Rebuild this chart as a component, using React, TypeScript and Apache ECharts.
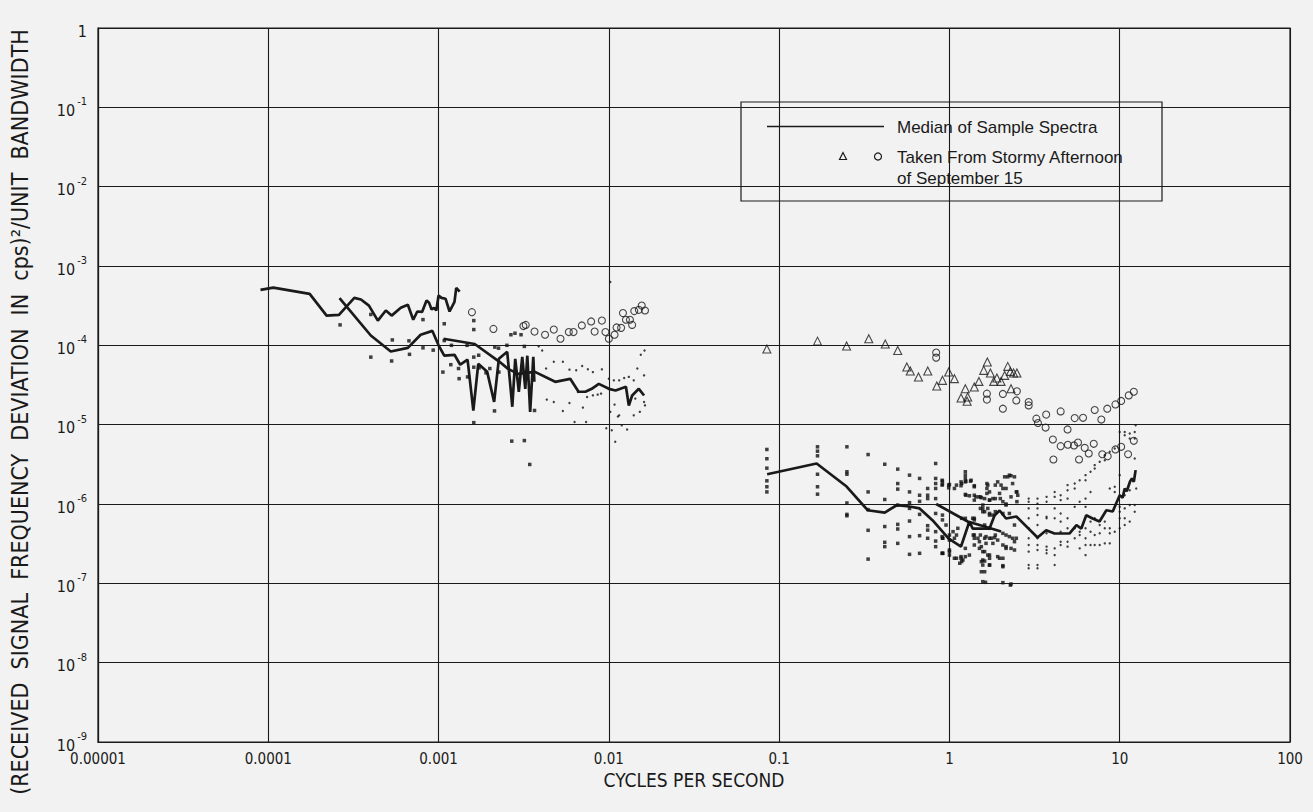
import React, { useEffect, useRef } from 'react';
import * as echarts from 'echarts';

const NARROW = "'Liberation Sans Narrow', 'DejaVu Sans Condensed', 'Arial Narrow', sans-serif";
const REGULAR = "'Liberation Sans', 'DejaVu Sans', sans-serif";
const INK = '#1a1a1a';
const BG = '#f2f2f2';

const X_TICK_LABELS = ['0.00001', '0.0001', '0.001', '0.01', '0.1', '1', '10', '100'];
const X_TITLE = 'CYCLES PER SECOND';
const Y_TITLE = '(RECEIVED  SIGNAL  FREQUENCY  DEVIATION  IN  cps)\u00B2/UNIT  BANDWIDTH';
const LEGEND_LINE = 'Median of Sample Spectra';
const LEGEND_STORM_1 = 'Taken From Stormy Afternoon';
const LEGEND_STORM_2 = 'of September 15';

// Median lines [cycles per second, level]
const medianA = [[9e-5,5.0e-4],[1.07e-4,5.35e-4],[1.75e-4,4.46e-4],[2.2e-4,2.37e-4],[2.6e-4,2.42e-4],[3.2e-4,3.97e-4],[3.5e-4,3.78e-4],[3.9e-4,3.17e-4],[4.4e-4,2.05e-4],[4.9e-4,2.75e-4],[5.3e-4,2.37e-4],[6.0e-4,2.97e-4],[6.6e-4,3.24e-4],[7.1e-4,2.1e-4],[7.5e-4,2.67e-4],[8.0e-4,2.64e-4],[8.5e-4,3.67e-4],[8.8e-4,3.43e-4],[9.1e-4,2.83e-4],[9.4e-4,2.97e-4],[9.7e-4,2.75e-4],[1.0e-3,4.24e-4],[1.04e-3,3.97e-4],[1.1e-3,3.86e-4],[1.16e-3,2.67e-4],[1.24e-3,3.53e-4],[1.27e-3,5.3e-4],[1.33e-3,4.76e-4]];
const medianB = [[2.62e-4,3.94e-4],[4.0e-4,1.33e-4],[5.24e-4,8.35e-5],[6.6e-4,9.3e-5],[7.85e-4,1.36e-4],[9.2e-4,1.52e-4],[1.0e-3,1.0e-4],[1.08e-3,7.4e-5],[1.24e-3,7.6e-5],[1.34e-3,5.7e-5],[1.48e-3,6.6e-5],[1.6e-3,1.5e-5],[1.71e-3,5.85e-5],[1.93e-3,4.63e-5],[2.12e-3,1.94e-5],[2.26e-3,6.76e-5],[2.53e-3,8.3e-5],[2.71e-3,1.68e-5],[2.82e-3,6.76e-5],[2.96e-3,2.6e-5],[3.1e-3,7.16e-5],[3.23e-3,2.83e-5],[3.32e-3,7.4e-5],[3.45e-3,1.45e-5],[3.6e-3,7.16e-5],[3.65e-3,3.47e-5]];
const medianC = [[1.07e-3,1.21e-4],[1.63e-3,1.04e-4],[2.28e-3,6.2e-5],[2.56e-3,5.05e-5],[2.93e-3,4.37e-5],[3.68e-3,4.63e-5],[4.84e-3,3.47e-5],[5.93e-3,3.78e-5],[6.64e-3,2.6e-5],[7.28e-3,2.6e-5],[7.93e-3,2.83e-5],[8.73e-3,3.27e-5],[1.0e-2,2.83e-5],[1.095e-2,2.7e-5],[1.26e-2,3.0e-5],[1.31e-2,1.74e-5],[1.37e-2,2.33e-5],[1.5e-2,2.83e-5],[1.61e-2,2.33e-5]];
const medianD = [[0.085,2.37e-6],[0.166,3.24e-6],[0.249,1.66e-6],[0.331,8.35e-7],[0.417,7.8e-7],[0.49,9.65e-7],[0.583,9.3e-7],[0.668,8.8e-7],[0.795,6.25e-7],[0.99,3.67e-7],[1.17,2.91e-7],[1.31,6.02e-7],[1.37,4.9e-7],[1.72,4.9e-7],[1.84,7.16e-7],[1.97,8.28e-7],[2.15,6.56e-7],[2.47,6.96e-7],[3.29,3.78e-7],[3.7,4.67e-7],[4.14,4.25e-7],[5.08,4.25e-7],[5.57,5.4e-7],[5.95,4.9e-7],[6.36,7.2e-7],[6.93,6.56e-7],[7.61,6.02e-7],[8.35,8.35e-7],[9.1,8.04e-7],[9.5,1.0e-6],[10,1.29e-6],[10.4,1.2e-6],[10.7,1.57e-6],[11.0,1.45e-6],[11.5,1.92e-6],[11.8,2.1e-6],[12.1,1.9e-6],[12.4,2.67e-6]];
const medianE = [[0.836,1.0e-6],[1.28,6.02e-7],[1.76,4.9e-7],[2.01,4.5e-7]];

// Sample spectra points
const samplesLeftSquares = [[2.64e-4,1.81e-4],[4.0e-4,2.45e-4],[4.0e-4,7.1e-5],[5.3e-4,6.35e-5],[5.35e-4,1.17e-4],[6.7e-4,1.14e-4],[6.75e-4,7.7e-5],[8.1e-4,9.3e-5],[8.1e-4,2.11e-4],[9.3e-4,8.7e-5],[1.08e-3,1.87e-4],[1.08e-3,1.15e-4],[1.06e-3,4.6e-5],[1.19e-3,1.0e-4],[1.18e-3,5.7e-5],[1.32e-3,3.8e-5],[1.31e-3,5.1e-5],[1.47e-3,1.0e-4],[1.48e-3,4.0e-5],[1.61e-3,1.06e-5],[1.61e-3,2.05e-4],[1.61e-3,1.58e-4],[1.61e-3,7.1e-5],[1.61e-3,5.3e-5],[1.72e-3,7.5e-5],[1.73e-3,5.2e-5],[1.9e-3,4.5e-5],[2.0e-3,5.1e-5],[2.13e-3,1.49e-5],[2.14e-3,9.5e-5],[2.25e-3,9.2e-5],[2.26e-3,4.6e-5],[2.52e-3,1.0e-4],[2.66e-3,1.36e-4],[2.69e-3,6.2e-6],[2.81e-3,1.42e-4],[3.05e-3,1.36e-4],[3.19e-3,6.3e-6],[3.19e-3,9.7e-5],[3.66e-3,1.51e-5],[3.43e-3,3.15e-6]];
const samplesLeftDots = [[3.87e-3,9.7e-5],[4.06e-3,8.6e-5],[4.28e-3,5.1e-5],[4.32e-3,2.07e-5],[4.75e-3,6.2e-5],[4.75e-3,1.93e-5],[5.37e-3,6.2e-5],[5.37e-3,1.49e-5],[5.87e-3,1.88e-5],[6.29e-3,1.08e-5],[6.97e-3,5.5e-5],[7.04e-3,1.64e-5],[7.35e-3,1.08e-5],[7.53e-3,5.0e-5],[8.06e-3,2.34e-5],[8.6e-3,2.39e-5],[9.0e-3,2.46e-5],[1.02e-2,6.3e-4],[1.0e-2,3.8e-5],[1.02e-2,1.45e-5],[1.04e-2,8.5e-6],[1.08e-2,1.79e-5],[1.15e-2,1.31e-5],[1.19e-2,9.8e-6],[1.28e-2,8.7e-6],[1.31e-2,4.0e-5],[1.4e-2,1.31e-5],[1.47e-2,5.1e-5],[1.52e-2,1.45e-5],[1.54e-2,7.6e-5],[1.62e-2,8.6e-5],[1.61e-2,1.93e-5],[1.63e-2,1.75e-5],[1.09e-2,6.1e-6],[9.66e-3,9.0e-6],[5.87e-3,4.94e-5],[6.43e-3,4.84e-5],[8.06e-3,4.6e-5],[9.1e-3,4.98e-5],[6.58e-3,2.58e-5],[7.45e-3,2.23e-5],[1.07e-2,3.62e-5],[1.15e-2,3.62e-5],[1.23e-2,3.88e-5],[1.4e-2,3.62e-5],[1.61e-2,4.18e-5],[1.13e-2,1.27e-5],[1.43e-2,2.13e-5],[1.31e-2,1.93e-5]];
const samplesRightSquares = [[0.0847,4.87e-6],[0.0847,3.72e-6],[0.0847,2.83e-6],[0.0847,1.96e-6],[0.0847,1.65e-6],[0.0847,1.42e-6],[0.168,5.26e-6],[0.168,4.63e-6],[0.168,4.05e-6],[0.168,2.37e-6],[0.168,1.65e-6],[0.168,1.33e-6],[0.25,5.26e-6],[0.25,2.55e-6],[0.25,2.37e-6],[0.25,1.03e-6],[0.25,7.4e-7],[0.25,7.1e-7],[0.333,4.2e-6],[0.333,1.42e-6],[0.333,8.5e-7],[0.333,4.66e-7],[0.333,2.02e-7],[0.417,3.17e-6],[0.417,1.14e-6],[0.417,5.2e-7],[0.417,3.29e-7],[0.417,2.9e-7],[0.497,2.75e-6],[0.497,1.81e-6],[0.497,1.54e-6],[0.497,9.7e-7],[0.497,5.54e-7],[0.497,4.84e-7],[0.497,3.19e-7],[0.583,2.31e-6],[0.583,1.42e-6],[0.583,1.04e-6],[0.583,8.8e-7],[0.583,6.1e-7],[0.583,3.88e-7],[0.583,2.32e-7],[0.668,2.1e-6],[0.668,1.29e-6],[0.668,1.08e-6],[0.668,7.4e-7],[0.668,3.99e-7],[0.668,2.39e-7],[0.745,1.57e-6],[0.745,1.29e-6],[0.745,1.17e-6],[0.745,5.33e-7],[0.745,4.69e-7],[0.745,3.7e-7],[0.83,3.24e-6],[0.83,2.1e-6],[0.83,1.81e-6],[0.83,1.57e-6],[0.83,1.17e-6],[0.83,7.6e-7],[0.83,4.48e-7],[0.83,3.41e-7],[0.83,2.9e-7],[0.91,1.94e-6],[0.91,1.78e-6],[0.91,7.25e-7],[0.91,6.3e-7],[0.91,3.7e-7],[0.91,2.39e-7],[1.0,1.76e-6],[1.0,4.06e-7],[1.0,2.63e-7],[1.1,1.73e-6],[1.1,4.06e-7],[1.1,2.07e-7],[1.18,1.81e-6],[1.18,6.6e-7],[1.18,1.88e-7],[1.24,2.55e-6],[1.24,1.9e-6],[1.24,1.32e-6],[1.24,6.6e-7],[1.24,2.76e-7],[1.24,2.17e-7],[1.4,1.65e-6],[1.4,1.29e-6],[1.4,6.6e-7],[1.4,3.7e-7],[1.4,3.04e-7],[1.52,1.23e-6],[1.52,8.8e-7],[1.52,4.06e-7],[1.61,1.17e-6],[1.61,8.0e-7],[1.61,5.43e-7],[1.61,3.7e-7],[1.61,2.51e-7],[1.61,1.91e-7],[1.61,1.4e-7],[1.72,1.42e-6],[1.72,1.12e-6],[1.72,7.25e-7],[1.72,4.94e-7],[1.72,3.7e-7],[1.72,2.27e-7],[1.72,1.7e-7],[1.86,1.73e-6],[1.86,1.17e-6],[1.86,8.0e-7],[1.86,4.06e-7],[1.63,1.03e-7],[1.33,1.94e-6],[1.43,1.23e-6],[1.68,1.73e-6],[1.92,1.9e-6],[2.01,1.73e-6],[2.11,2.2e-6],[2.25,2.31e-6],[2.41,2.2e-6],[2.49,1.42e-6],[2.49,1.07e-6],[1.99,1.17e-6],[2.15,1.0e-6],[2.06,7.6e-7],[2.25,7.6e-7],[2.41,5.43e-7],[2.25,3.88e-7],[2.41,3.35e-7],[2.15,2.76e-7],[1.97,2.07e-7],[1.57,1.97e-7],[2.28,9.5e-8],[2.06,1.62e-7],[1.38,4.06e-7],[1.5,2.76e-7],[1.31,2.27e-7],[1.17,2.07e-7],[1.07,2.07e-7],[1.0,2.51e-7],[0.915,2.39e-7],[0.915,3.7e-7],[1.05,4.48e-7],[1.12,4.94e-7],[0.955,5.43e-7],[0.906,1.99e-6],[0.906,1.73e-6],[0.99,1.73e-6],[0.99,1.6e-6],[1.07,1.57e-6],[1.17,1.9e-6],[1.17,1.7e-6],[1.24,2.31e-6],[1.24,2.1e-6],[1.25,1.94e-6],[1.34,1.99e-6],[1.4,1.7e-6],[1.25,1.29e-6],[1.31,1.27e-6],[1.4,1.12e-6],[1.49,1.23e-6],[1.54,1.2e-6],[1.57,9.7e-7],[1.57,8.8e-7],[1.57,8.0e-7],[1.66,1.81e-6],[1.66,1.57e-6],[1.66,1.36e-6],[1.72,1.12e-6],[1.8,1.17e-6],[1.68,8.8e-7],[1.72,7.6e-7],[1.8,7.25e-7],[1.97,1.36e-6],[2.06,1.57e-6],[2.15,1.57e-6],[2.2,2.2e-6],[2.3,2.27e-6],[2.35,1.81e-6],[2.47,1.42e-6],[2.52,1.29e-6],[2.06,1.07e-6],[2.15,9.7e-7],[2.3,1.23e-6],[1.37,6.6e-7],[1.4,6.3e-7],[1.31,5.7e-7],[1.4,4.06e-7],[1.47,3.7e-7],[1.5,3.35e-7],[1.54,2.9e-7],[1.64,3.88e-7],[1.76,3.7e-7],[1.84,3.77e-7],[1.64,3.19e-7],[1.8,3.19e-7],[1.92,3.51e-7],[2.06,4.27e-7],[2.15,4.06e-7],[2.35,3.7e-7],[2.47,3.7e-7],[2.06,3.04e-7],[2.15,2.9e-7],[2.3,2.76e-7],[2.41,2.63e-7],[1.57,2.51e-7],[1.68,2.27e-7],[1.72,2.07e-7],[1.92,2.17e-7],[2.06,2.07e-7],[1.54,1.88e-7],[1.57,1.7e-7],[1.54,1.4e-7],[1.72,1.7e-7],[2.06,1.67e-7],[0.906,3.88e-7],[1.0,3.51e-7],[1.07,3.7e-7],[0.906,2.39e-7],[1.0,2.27e-7],[1.17,2.17e-7],[1.2,1.97e-7],[1.15,1.79e-7],[1.57,1.05e-7],[2.06,1.02e-7],[2.3,9.8e-8]];
const samplesRightDots = [[2.92,1.17e-6],[2.92,1.07e-6],[2.92,8.8e-7],[2.92,6.6e-7],[2.92,4.94e-7],[2.92,3.7e-7],[2.92,3.04e-7],[2.92,2.51e-7],[2.92,1.7e-7],[2.92,1.55e-7],[3.29,1.17e-6],[3.29,1.01e-6],[3.29,8.8e-7],[3.29,7.25e-7],[3.29,5.43e-7],[3.29,3.7e-7],[3.29,3.04e-7],[3.29,2.63e-7],[3.29,1.7e-7],[3.29,1.55e-7],[3.72,1.23e-6],[3.72,1.07e-6],[3.72,6.9e-7],[3.72,6.6e-7],[3.72,4.27e-7],[3.72,2.9e-7],[3.72,2.63e-7],[3.72,2.39e-7],[4.15,1.42e-6],[4.15,1.23e-6],[4.15,8.8e-7],[4.15,6.6e-7],[4.15,2.76e-7],[4.15,2.27e-7],[4.15,1.7e-7],[4.5,1.29e-6],[4.5,1.12e-6],[4.5,7.6e-7],[4.5,6.0e-7],[4.5,4.48e-7],[4.5,3.35e-7],[4.5,3.04e-7],[4.94,1.73e-6],[4.94,1.49e-6],[4.94,1.17e-6],[4.94,6.6e-7],[4.94,4.94e-7],[4.94,3.35e-7],[4.94,2.9e-7],[5.44,1.81e-6],[5.44,1.57e-6],[5.44,9.2e-7],[5.44,4.94e-7],[5.44,3.7e-7],[5.82,1.99e-6],[5.82,1.07e-6],[5.82,4.48e-7],[5.82,4.06e-7],[5.82,2.76e-7],[6.3,2.31e-6],[6.3,1.99e-6],[6.3,1.17e-6],[6.3,9.2e-7],[6.3,4.94e-7],[6.3,3.7e-7],[6.3,3.04e-7],[6.3,2.27e-7],[6.74,2.55e-6],[6.74,1.42e-6],[6.74,6.0e-7],[6.74,4.48e-7],[6.74,3.04e-7],[7.13,3.09e-6],[7.13,2.8e-6],[7.13,6.6e-7],[7.13,4.06e-7],[7.13,3.04e-7],[7.63,3.4e-6],[7.63,5.43e-7],[7.63,4.27e-7],[7.63,3.04e-7],[8.17,4.12e-6],[8.17,3.56e-6],[8.17,6.0e-7],[8.17,4.94e-7],[8.17,3.19e-7],[8.74,4.55e-6],[8.74,1.57e-6],[8.74,4.94e-7],[8.74,4.27e-7],[8.74,3.19e-7],[9.35,5.0e-6],[9.35,1.65e-6],[9.35,1.42e-6],[9.35,4.48e-7],[10,8.1e-6],[10,2.31e-6],[10,9.2e-7],[10,8.0e-7],[10,6.6e-7],[10,4.94e-7],[10.7,8.1e-6],[10.7,7.35e-6],[10.7,1.29e-6],[10.7,8.8e-7],[10.7,6.6e-7],[10.7,5.43e-7],[11.45,7.75e-6],[11.45,6.7e-6],[11.45,1.49e-6],[11.45,9.7e-7],[11.45,6.0e-7],[12.25,8.1e-6],[12.25,6.7e-6],[12.25,3.74e-6],[12.25,9.7e-7],[12.25,8.0e-7],[12.4,9.85e-6],[12.5,1.57e-6]];

// Stormy afternoon of September 15
const stormyTriangles = [[0.0847,9.0e-5],[0.168,1.13e-4],[0.249,9.8e-5],[0.336,1.21e-4],[0.42,1.04e-4],[0.497,8.6e-5],[0.562,5.33e-5],[0.589,4.75e-5],[0.658,3.99e-5],[0.746,4.75e-5],[0.843,3.07e-5],[0.91,3.62e-5],[0.99,4.61e-5],[1.07,3.8e-5],[1.17,2.17e-5],[1.24,2.84e-5],[1.27,1.97e-5],[1.28,2.23e-5],[1.4,2.99e-5],[1.49,3.51e-5],[1.59,4.84e-5],[1.67,6.17e-5],[1.74,4.48e-5],[1.82,3.51e-5],[1.9,3.88e-5],[2.01,3.51e-5],[2.11,4.18e-5],[2.2,5.43e-5],[2.28,4.69e-5],[2.3,2.84e-5],[2.38,4.48e-5],[2.49,4.48e-5]];
const stormyCircles = [[1.57e-3,2.62e-4],[2.1e-3,1.61e-4],[3.15e-3,1.75e-4],[3.25e-3,1.81e-4],[3.66e-3,1.49e-4],[4.22e-3,1.36e-4],[4.75e-3,1.58e-4],[5.2e-3,1.21e-4],[5.82e-3,1.47e-4],[6.2e-3,1.47e-4],[6.94e-3,1.78e-4],[7.87e-3,2.0e-4],[8.25e-3,1.49e-4],[9.1e-3,2.05e-4],[9.55e-3,1.47e-4],[1.0e-2,1.21e-4],[1.08e-2,1.36e-4],[1.11e-2,1.68e-4],[1.18e-2,1.66e-4],[1.21e-2,2.55e-4],[1.26e-2,2.1e-4],[1.33e-2,2.1e-4],[1.37e-2,1.81e-4],[1.41e-2,2.7e-4],[1.5e-2,2.8e-4],[1.56e-2,3.17e-4],[1.63e-2,2.75e-4],[0.836,8.1e-5],[0.836,7.0e-5],[1.66,2.46e-5],[1.66,2.07e-5],[2.06,2.44e-5],[2.06,1.59e-5],[2.49,2.63e-5],[2.47,2.02e-5],[2.92,1.93e-5],[2.92,1.75e-5],[3.24,1.19e-5],[3.31,1.05e-5],[3.7,1.34e-5],[3.67,9.2e-6],[4.05,6.5e-6],[4.08,3.64e-6],[4.5,1.47e-5],[4.5,5.36e-6],[4.94,8.7e-6],[4.96,5.58e-6],[5.39,5.47e-6],[5.44,1.21e-5],[5.69,5.96e-6],[5.77,3.64e-6],[6.09,1.22e-5],[6.23,5.1e-6],[6.58,4.33e-6],[7.04,5.74e-6],[7.13,1.53e-5],[7.8,1.16e-5],[7.9,4.24e-6],[8.45,1.59e-5],[8.5,4.0e-6],[9.44,1.8e-5],[9.44,4.87e-6],[10.2,5.26e-6],[10.2,1.99e-5],[11.3,2.34e-5],[11.2,4.24e-6],[12.1,2.6e-5],[12.1,6.26e-6]];

export default function App() {
  const ref = useRef<HTMLDivElement>(null);
  useEffect(() => {
    if (!ref.current) return;
    const chart = echarts.init(ref.current, null, { renderer: 'svg' });
    const lineSeries = (data: number[][]) => ({
      type: 'line', name: LEGEND_LINE, data, symbol: 'none', showSymbol: false,
      lineStyle: { color: INK, width: 2.7 }, silent: true, z: 3,
    });
    const scatter = (name: string, data: number[][], symbol: string, size: number, hollow: boolean) => ({
      type: 'scatter', name, data, symbol, symbolSize: size, silent: true, z: 4,
      itemStyle: hollow
        ? { color: 'rgba(0,0,0,0)', borderColor: INK, borderWidth: 1.1 }
        : { color: '#111' },
    });
    const option = {
      animation: false,
      backgroundColor: BG,
      grid: { left: 98, right: 23, top: 28, bottom: 70, show: true, borderColor: INK, borderWidth: 1.2 },
      xAxis: {
        type: 'log', logBase: 10, min: 1e-5, max: 100,
        name: X_TITLE, nameLocation: 'middle', nameGap: 22,
        nameTextStyle: { fontFamily: NARROW, fontSize: 19, color: INK },
        axisLine: { show: true, lineStyle: { color: INK, width: 1.2 } },
        axisTick: { show: false },
        splitLine: { show: true, lineStyle: { color: INK, width: 1.1 } },
        minorSplitLine: { show: false },
        axisLabel: {
          fontFamily: NARROW, fontSize: 15, color: INK, margin: 9,
          formatter: (v: number) => X_TICK_LABELS[Math.round(Math.log10(v)) + 5] ?? '',
        },
      },
      yAxis: {
        type: 'log', logBase: 10, min: 1e-9, max: 1,
        axisLine: { show: true, lineStyle: { color: INK, width: 1.2 } },
        axisTick: { show: false },
        splitLine: { show: true, lineStyle: { color: INK, width: 1.1 } },
        axisLabel: {
          margin: 11,
          formatter: (v: number) => {
            const e = Math.round(Math.log10(v));
            return e === 0 ? '{b|1}' : `{b|10}{s|-${-e}}`;
          },
          rich: {
            b: { fontFamily: NARROW, fontSize: 16, color: INK, lineHeight: 22, verticalAlign: 'bottom' },
            s: { fontFamily: NARROW, fontSize: 11, color: INK, lineHeight: 22, verticalAlign: 'top', padding: [0, 0, 0, 2] },
          },
        },
      },
      series: [
        lineSeries(medianA), lineSeries(medianB), lineSeries(medianC), lineSeries(medianD), lineSeries(medianE),
        scatter('Sample Spectra', samplesLeftSquares, 'rect', 3.5, false),
        scatter('Sample Spectra', samplesRightSquares, 'rect', 3.5, false),
        scatter('Sample Spectra', samplesLeftDots, 'circle', 2.4, false),
        scatter('Sample Spectra', samplesRightDots, 'circle', 2.4, false),
        scatter(LEGEND_STORM_1 + ' ' + LEGEND_STORM_2 + ' (triangles)', stormyTriangles, 'triangle', 8, true),
        scatter(LEGEND_STORM_1 + ' ' + LEGEND_STORM_2 + ' (circles)', stormyCircles, 'circle', 7, true),
      ],
      graphic: [
        {
          type: 'text', x: 20, y: 412, rotation: Math.PI / 2, z: 50,
          style: { text: Y_TITLE, fontFamily: NARROW, fontSize: 23, fill: INK, align: 'center', verticalAlign: 'middle' },
        },
        {
          type: 'group', z: 100,
          children: [
            { type: 'rect', shape: { x: 741, y: 102, width: 421, height: 99 }, style: { fill: BG, stroke: INK, lineWidth: 1.2 } },
            { type: 'line', shape: { x1: 767, y1: 126.5, x2: 884, y2: 126.5 }, style: { stroke: INK, lineWidth: 1.5 } },
            { type: 'text', x: 897, y: 127, style: { text: LEGEND_LINE, fontFamily: REGULAR, fontSize: 17, fill: INK, verticalAlign: 'middle' } },
            { type: 'polygon', shape: { points: [[843, 152.5], [839.5, 159.5], [846.5, 159.5]] }, style: { fill: 'none', stroke: INK, lineWidth: 1.2 } },
            { type: 'circle', shape: { cx: 878, cy: 156.5, r: 3.5 }, style: { fill: 'none', stroke: INK, lineWidth: 1.2 } },
            { type: 'text', x: 897, y: 157, style: { text: LEGEND_STORM_1, fontFamily: REGULAR, fontSize: 17, fill: INK, verticalAlign: 'middle' } },
            { type: 'text', x: 897, y: 178, style: { text: LEGEND_STORM_2, fontFamily: REGULAR, fontSize: 17, fill: INK, verticalAlign: 'middle' } },
          ],
        },
      ],
    };
    chart.setOption(option as any);
    return () => chart.dispose();
  }, []);
  return <div ref={ref} style={{ position: 'fixed', left: 0, top: 0, width: 1313, height: 812, background: BG }} />;
}
